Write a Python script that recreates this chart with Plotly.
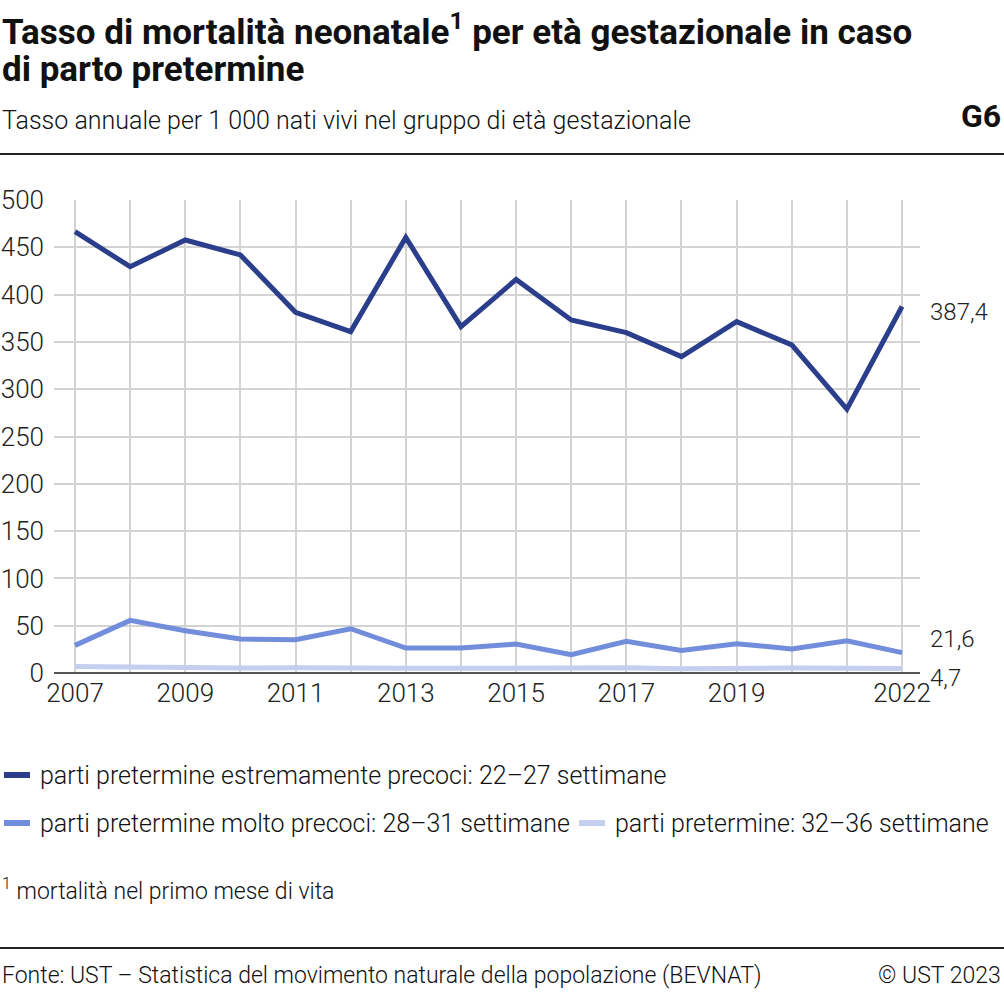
import plotly.graph_objects as go

years = list(range(2007, 2023))
extreme = [466.5, 429.5, 457.7, 441.9, 381.3, 360.9, 460.5, 366.1, 416.0, 373.2, 359.8, 334.4, 371.4, 346.8, 278.9, 387.4]
very = [29.2, 55.6, 44.7, 35.9, 35.2, 46.8, 26.4, 26.4, 30.6, 19.3, 33.4, 23.9, 31.0, 25.4, 34.1, 21.6]
moderate = [7.0, 6.3, 4.9, 5.3, 5.6, 4.9, 4.9, 4.9, 5.3, 6.0, 5.6, 4.5, 5.3, 5.3, 4.9, 4.7]

series_names = [
    "parti pretermine estremamente precoci: 22–27 settimane",
    "parti pretermine molto precoci: 28–31 settimane",
    "parti pretermine: 32–36 settimane",
]
series_colors = ["#2b3e8c", "#718ddb", "#c4cff0"]
end_labels = ["387,4", "21,6", "4,7"]
tick_years = [2007, 2009, 2011, 2013, 2015, 2017, 2019, 2022]
y_ticks = [0, 50, 100, 150, 200, 250, 300, 350, 400, 450, 500]

FONT = "Roboto"
W, H = 1004, 992
L, R, T, B = 54, 84, 200, 319
PW = W - L - R
PH = H - T - B


def px(x):
    return (x - L) / PW


def py(y):
    return (H - B - y) / PH


fig = go.Figure()
data = [extreme, very, moderate]
for name, vals, col in zip(series_names[::-1], data[::-1], series_colors[::-1]):
    fig.add_trace(go.Scatter(x=years, y=vals, mode="lines", name=name,
                             line=dict(color=col, width=5), showlegend=False,
                             hoverinfo="skip"))

# end labels
shifts = [-5, 14, -9]
for vals, lab, ys in zip(data, end_labels, shifts):
    fig.add_annotation(x=years[-1], y=vals[-1], xref="x", yref="y", text=lab,
                       showarrow=False, xanchor="left", yanchor="middle",
                       xshift=26, yshift=ys,
                       font=dict(family=FONT, size=24, color="#222", weight=300))


def txt(x, y, s, size, xanchor="left", weight=300, color="#111"):
    fig.add_annotation(x=px(x), y=py(y), xref="paper", yref="paper", text=s,
                       showarrow=False, xanchor=xanchor, yanchor="middle",
                       font=dict(family=FONT, size=size, color=color, weight=weight))


txt(0, 30, "Tasso di mortalità neonatale<sup>1</sup> per età gestazionale in caso", 35, weight=700)
txt(0, 69, "di parto pretermine", 35, weight=700)
txt(0, 120, "Tasso annuale per 1 000 nati vivi nel gruppo di età gestazionale", 25)
txt(1003, 116, "G6", 32, xanchor="right", weight=700)
txt(0, 889, "<sup>1</sup> mortalità nel primo mese di vita", 23)
txt(0, 975, "Fonte: UST – Statistica del movimento naturale della popolazione (BEVNAT)", 23)
txt(1003, 975, "© UST 2023", 23, xanchor="right")

# legend
leg = [(2, 775, 0), (2, 823, 1), (577, 823, 2)]
for x0, y0, i in leg:
    fig.add_shape(type="line", xref="paper", yref="paper",
                  x0=px(x0 + 2), x1=px(x0 + 28), y0=py(y0), y1=py(y0),
                  line=dict(color=series_colors[i], width=6))
    txt(x0 + 36, y0, series_names[i], 25)

# rules
for yy, w in [(154, 2), (948, 2)]:
    fig.add_shape(type="line", xref="paper", yref="paper",
                  x0=px(0), x1=px(W), y0=py(yy), y1=py(yy),
                  line=dict(color="#222", width=w))

fig.update_layout(
    width=W, height=H,
    margin=dict(l=L, r=R, t=T, b=B, pad=0, autoexpand=False),
    paper_bgcolor="white", plot_bgcolor="white",
    separators=", ",
    font=dict(family=FONT, size=22, color="#222"),
    showlegend=False,
    xaxis=dict(range=[2006.619, 2022.326], tickvals=years,
               ticktext=[str(y) if y in tick_years else "" for y in years],
               showgrid=True, gridcolor="#d3d3d3", gridwidth=1.5,
               zeroline=False, showline=False, ticks="", automargin=False,
               tickfont=dict(family=FONT, size=26, color="#222", weight=300),
               ticklabelstandoff=2, fixedrange=True),
    yaxis=dict(range=[0, 500], tickvals=y_ticks,
               showgrid=True, gridcolor="#d3d3d3", gridwidth=1.5,
               zeroline=True, zerolinecolor="#555", zerolinewidth=2,
               showline=False, ticks="", automargin=False,
               tickfont=dict(family=FONT, size=26, color="#222", weight=300),
               ticklabelstandoff=9, fixedrange=True),
)

fig.write_html("out.html", config={"displayModeBar": False},
               post_script="document.body.style.margin='0';document.body.style.overflow='hidden';")
